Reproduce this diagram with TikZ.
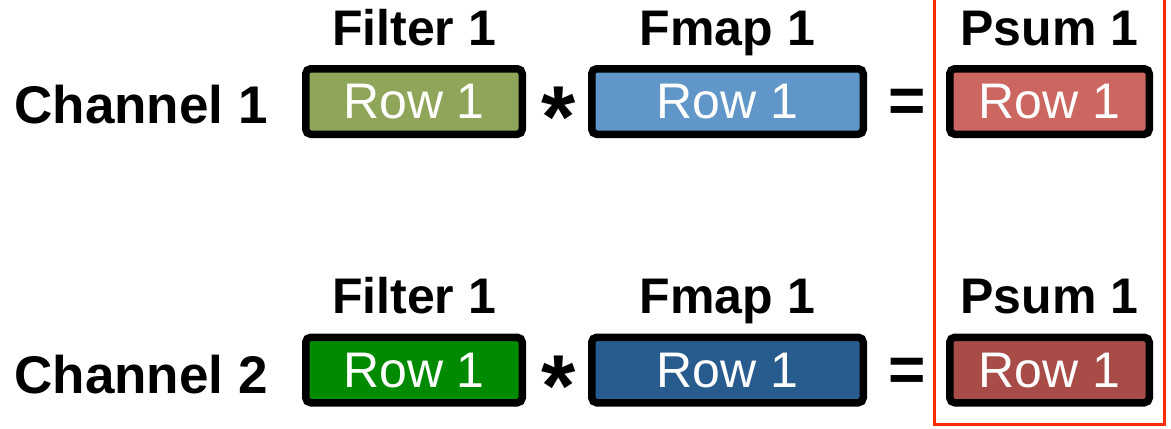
\documentclass[tikz,border=0pt]{standalone}
\usepackage{fontspec}
\setmainfont{Liberation Sans}
\usepackage{xcolor}
\usetikzlibrary{positioning}

\definecolor{filtA}{HTML}{8FA65A}
\definecolor{fmapA}{HTML}{6096C8}
\definecolor{psumA}{HTML}{CC6660}
\definecolor{filtB}{HTML}{008A00}
\definecolor{fmapB}{HTML}{285C8F}
\definecolor{psumB}{HTML}{A84C47}
\definecolor{frameRed}{HTML}{FF2A00}

\begin{document}
\begin{tikzpicture}[x=0.5pt, y=-0.5pt,
  rowbox/.style={rectangle, draw=black, line width=3.75pt, rounded corners=2.5pt, inner sep=0pt,
    minimum height=32.75pt, text=white, text depth=0pt, font=\fontsize{25}{30}\selectfont},
  filterbox/.style={rowbox, minimum width=108.25pt},
  fmapbox/.style={rowbox, minimum width=135.75pt},
  psumbox/.style={rowbox, minimum width=99.75pt},
  header/.style={anchor=base, inner sep=0pt, font=\fontsize{25}{30}\selectfont\bfseries},
  chan/.style={inner sep=0pt, text depth=0pt, font=\fontsize{26.5}{30}\selectfont\bfseries},
  star/.style={anchor=north, inner sep=0pt, font=\fontsize{44}{48}\selectfont\bfseries},
  op/.style={inner sep=0pt, font=\fontsize{32}{36}\selectfont\bfseries}
]
\useasboundingbox (0,0) rectangle (1171,428);

% channel 1
\node[chan] (chanA) at (141,104) {Channel 1};
\node[filterbox, fill=filtA] (filtA) at (414,101.5) {Row 1};
\node[fmapbox, fill=fmapA] (fmapA) at (727.5,101.5) {Row 1};
\node[psumbox, fill=psumA] (psumA) at (1049.5,101.5) {Row 1};
\node[header] (filtAlbl) at (414,45) {Filter 1};
\node[header] (fmapAlbl) at (727.5,45) {Fmap 1};
\node[header] (psumAlbl) at (1049.5,45) {Psum 1};
\node[star] (starA) at (559,87) {*};
\node[op] (eqA) at (907,106) {=};

% channel 2
\node[chan] (chanB) at (141,374) {Channel 2};
\node[filterbox, fill=filtB] (filtB) at (414,370) {Row 1};
\node[fmapbox, fill=fmapB] (fmapB) at (727.5,370) {Row 1};
\node[psumbox, fill=psumB] (psumB) at (1049.5,370) {Row 1};
\node[header] (filtBlbl) at (414,313) {Filter 1};
\node[header] (fmapBlbl) at (727.5,313) {Fmap 1};
\node[header] (psumBlbl) at (1049.5,313) {Psum 1};
\node[star] (starB) at (559,356) {*};
\node[op] (eqB) at (907,375) {=};

% psum frame
\draw[frameRed, line width=1.5pt] (934,-10) rectangle (1164,424);

\end{tikzpicture}
\end{document}
